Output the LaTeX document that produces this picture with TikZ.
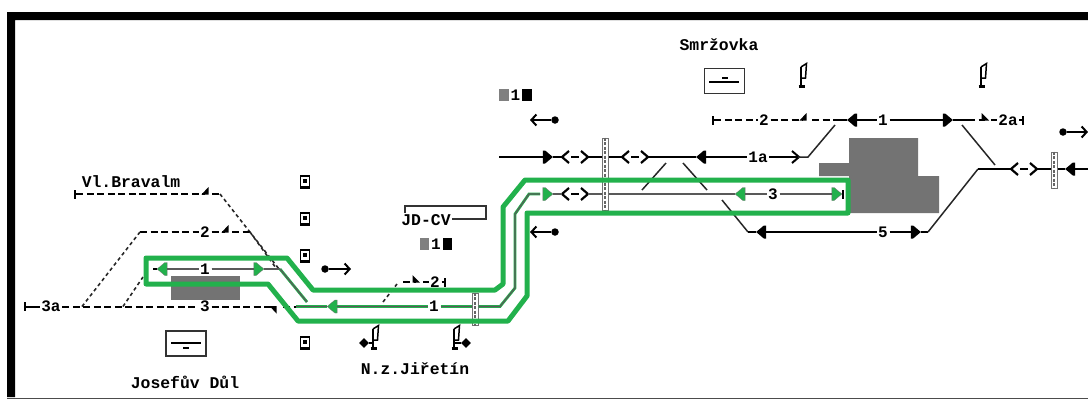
\documentclass[tikz,border=0pt]{standalone}
\usepackage{fontspec}
\setmonofont{Liberation Mono}
\usetikzlibrary{positioning,arrows.meta,shapes.geometric,shapes.symbols}
\definecolor{routegreen}{RGB}{34,177,76}
\tikzset{
  tracklab/.style={font=\fontsize{16}{16}\selectfont\ttfamily\bfseries, inner sep=1.5pt},
  stationlab/.style={font=\fontsize{16.4}{17}\selectfont\ttfamily\bfseries, inner sep=0pt},
  track/.style={line width=2pt, black},
  dashtrack/.style={line width=2pt, black, dash pattern=on 7pt off 3.5pt},
  link/.style={line width=1.5pt, black!85},
  dotlink/.style={line width=1.6pt, black!85, dash pattern=on 3.5pt off 3pt},
  routetrack/.style={draw=routegreen, line width=.8pt, double=black!65, double distance=1.2pt},
  route/.style={draw=routegreen, line width=5pt, line join=round},
  sigbox/.style={signal, signal pointer angle=80, inner sep=0pt, minimum width=10pt, minimum height=13pt},
  sigeast/.style={sigbox, signal to=east, fill=black},
  sigwest/.style={sigbox, signal to=west, fill=black},
  sigeastg/.style={sigeast, fill=routegreen, draw=black!55, line width=.3pt},
  sigwestg/.style={sigwest, fill=routegreen, draw=black!55, line width=.3pt},
  endtick/.style={fill=black, minimum width=2.5pt, minimum height=9pt, inner sep=0pt},
  bridge/.style={draw=black!55, fill=white, line width=1pt, minimum width=6pt, inner sep=0pt},
  bridgemid/.style={line width=1.4pt, black!60, dash pattern=on 3pt off 1.5pt},
  stbox/.style={draw=black!80, line width=1.2pt, fill=white, minimum width=40pt, minimum height=25pt, inner sep=0pt},
  hatch/.style={fill=black!55},
  blocksq/.style={fill=black, minimum width=9.5pt, minimum height=12pt, inner sep=0pt},
  blockgr/.style={blocksq, fill=black!50},
  dotend/.style={circle, fill=black, minimum size=7.5pt, inner sep=0pt},
  openarrow/.style={line width=2pt, black, -{Straight Barb[length=5pt,width=11pt]}},
  flagdot/.style={diamond, fill=black, minimum size=10pt, inner sep=0pt},
  lamp/.pic={
    \draw[line width=1.2pt, fill=white] (-4.5,-6) rectangle (4.5,5);
    \fill (-1.7,-2.7) rectangle (1.7,.7);
    \draw[line width=2.4pt] (-5,6) -- (5,6);
  },
  swapgap/.pic={
    \draw[line width=2.2pt] (-6,-6) -- (-13,0) -- (-6,6);
    \draw[line width=2.2pt] (6,-6) -- (13,0) -- (6,6);
    \draw[line width=2pt] (-4,0) -- (4,0);
    \coordinate (-w) at (-13,0);
    \coordinate (-e) at (13,0);
  },
  flagmast/.pic={
    \draw[line width=2.4pt] (-4.5,11.5) -- (2,11.5);
    \draw[line width=2.8pt] (-2,11.5) -- (-2,-8);
    \draw[line width=1.5pt] (-2,-8) -- (3.5,-11.5) -- (2.5,3) -- (-2,3);
    \coordinate (-base) at (-2,6);
  },
  wedgeup/.pic={\fill (-3.5,.5) -- (3.5,.5) -- (3.5,-7) -- cycle;},
  wedgeback/.pic={\fill (-3.5,.5) -- (4,.5) -- (-3.5,-7) -- cycle;},
  wedgedown/.pic={\fill (-3.5,-.5) -- (3.5,-.5) -- (3.5,7) -- cycle;},
}

\begin{document}
\begin{tikzpicture}[x=1pt, y=-1pt]
  \useasboundingbox (0,0) rectangle (1088,400);
  % frame
  \fill[black] (1088,12) -- (7,12) -- (7,397) -- (15,397) -- (15,20) -- (1088,20) -- cycle;
  \draw[black!70, line width=1pt] (7,398) -- (1088,398);
  % occupied areas
  \fill[hatch] (171,276) rectangle (240,300);
  \fill[hatch] (849,138) -- (918,138) -- (918,176) -- (939,176) -- (939,213) -- (849,213) -- (849,176) -- (819,176) -- (819,163) -- (849,163) -- cycle;
  % Josefuv Dul
  \node[stationlab] (vlb) at (131,182) {Vl.Bravalm};
  \node[stationlab] (jos) at (185,382) {Josefův Důl};
  \node[stbox] (josbox) at (186,343.5) {};
  \draw[line width=2pt] (171,343) -- (201,343);
  \draw[line width=2pt] (183,348) -- (189,348);
  \node[endtick] (vlend) at (75,194) {};
  \coordinate (vlw) at (205,194);
  \coordinate (vlr) at (220,194);
  \draw[dashtrack] (vlend) -- (vlw);
  \pic at (vlw) {wedgeup};
  \draw[dashtrack] (vlw) ++(7,0) -- (vlr);
  \draw[dotlink] (vlr) -- (279,269);
  \node[tracklab] (t2) at (205,232) {2};
  \coordinate (t2l) at (140,232);
  \coordinate (t2w) at (225,232);
  \coordinate (t2r) at (250,232);
  \draw[dashtrack] (t2l) -- (t2);
  \draw[dashtrack] (t2) -- (t2w);
  \pic at (t2w) {wedgeup};
  \draw[dashtrack] (t2w) ++(7,0) -- (t2r);
  \draw[dotlink] (t2r) -- (276,268);
  \node[endtick] (e3a) at (25,306.5) {};
  \node[tracklab] (t3a) at (51,306.5) {3a};
  \node[tracklab] (t3) at (205,306.5) {3};
  \coordinate (t3w) at (273,306.5);
  \coordinate (j3) at (82,306.5);
  \coordinate (k3) at (123,306.5);
  \draw[track] (e3a) -- (t3a);
  \draw[dashtrack] (t3a) -- (t3);
  \draw[dashtrack] (t3) -- (t3w);
  \pic at (t3w) {wedgedown};
  \draw[dotlink] (j3) -- (t2l);
  \draw[dotlink] (k3) -- (143,277);
  \node[tracklab] (t1) at (205,269) {1};
  \node[sigwestg] (s1l) at (166,269) {};
  \node[sigeastg] (s1r) at (255,269) {};
  \coordinate (t1w) at (153,269);
  \coordinate (t1e) at (280,269);
  \draw[track] (t1w) -- (s1l);
  \draw[routetrack] (s1l) -- (t1);
  \draw[routetrack] (t1) -- (s1r);
  \draw[routetrack] (s1r) -- (t1e);
  % lamps
  \pic at (305,182) {lamp};
  \pic at (305,219) {lamp};
  \pic at (305,256) {lamp};
  \pic at (305,343) {lamp};
  \node[dotend] (d1) at (325,269) {};
  \coordinate (a1) at (351,269);
  \draw[openarrow] (d1) -- (a1);
  % N.z.Jiretin
  \node[bridge, minimum height=32pt] (br1) at (475,309) {};
  \draw[bridgemid] (br1.north) -- (br1.south);
  \node[sigwestg] (s3) at (336,306.5) {};
  \node[tracklab] (m1) at (434,306.5) {1};
  \coordinate (mw) at (296,306.5);
  \coordinate (me) at (500,306.5);
  \draw[routetrack] (mw) -- (s3);
  \draw[routetrack] (t1e) -- (307,302);
  \draw[dashtrack] (283,306.5) -- (mw);
  \draw[routetrack] (s3) -- (m1);
  \draw[routetrack] (m1) -- (m1 -| br1.west);
  \draw[routetrack] (m1 -| br1.east) -- (me) -- (515,288) -- (515,214) -- (529,194) -- (540,194);
  \coordinate (d2b) at (383,302);
  \coordinate (d2t) at (397,284);
  \draw[dotlink] (d2b) -- (d2t);
  \node[tracklab] (n2) at (435,282) {2};
  \node[endtick] (n2e) at (445,282) {};
  \coordinate (n2w) at (416,282);
  \draw[dashtrack] (403,282) -- (n2w);
  \pic at (n2w) {wedgeback};
  \draw[dashtrack] (423,282) -- (n2);
  \draw[track] (n2) -- (n2e);
  \node[stationlab] (jd) at (426,220) {JD-CV};
  \draw[line width=1.2pt, black!80] (405,213) -- (405,206) -- (486,206) -- (486,219) -- (452,219);
  \node[blockgr] (bg1) at (424.5,244) {};
  \node[tracklab, right=0pt of bg1] (bn1) {1};
  \node[blocksq, right=0pt of bn1] (bb1) {};
  \pic (fg1) at (375,337) {flagmast};
  \pic (fg2) at (456,337) {flagmast};
  \node[flagdot] (fd1) at (364,343) {};
  \node[flagdot] (fd2) at (466,343) {};
  \draw[track] (fd1) -- (fg1-base);
  \draw[track] (fd2) -- (fg2-base);
  \node[stationlab] (jir) at (415,369) {N.z.Jiřetín};
  % middle group
  \node[blockgr] (bg2) at (504,95) {};
  \node[tracklab, right=0pt of bg2] (bn2) {1};
  \node[blocksq, right=0pt of bn2] (bb2) {};
  \node[dotend] (d2) at (555,120) {};
  \coordinate (a2) at (530,120);
  \draw[openarrow] (d2) -- (a2);
  \node[dotend] (d3) at (555,232) {};
  \coordinate (a3) at (530,232);
  \draw[openarrow] (d3) -- (a3);
  \node[bridge, minimum height=72pt] (br2) at (605,174) {};
  \draw[bridgemid] (br2.north) -- (br2.south);
  % track 1a
  \coordinate (u0) at (499,157);
  \node[sigeast] (u1) at (544,157) {};
  \pic (u2) at (575,157) {swapgap};
  \pic (u3) at (635,157) {swapgap};
  \node[sigwest] (u4) at (705,157) {};
  \node[tracklab] (u5) at (758,157) {1a};
  \coordinate (u6) at (798,157);
  \coordinate (u7) at (808,157);
  \draw[track] (u0) -- (u1);
  \draw[track] (u1) -- (u2-w);
  \draw[track] (u2-e) -- (u2-e -| br2.west);
  \draw[track] (u3-w) -- (u3-w -| br2.east);
  \draw[track] (u3-e) -- (u4);
  \draw[track] (u4) -- (u5);
  \draw[track] (u5) -- (u6);
  \draw[line width=2pt] (792,151) -- (799,157) -- (792,163);
  \draw[link] (u6) -- (u7) -- (835,125);
  \draw[link] (666,163) -- (642,190);
  \draw[link] (683,163) -- (707,190);
  % track 3
  \node[sigeastg] (g1) at (544,194) {};
  \pic (g2) at (575,194) {swapgap};
  \node[sigwestg] (g3) at (744,194) {};
  \node[tracklab] (g4) at (773,194) {3};
  \node[sigeastg] (g5) at (833,194) {};
  \node[endtick] (g6) at (843,194) {};
  \draw[routetrack] (g1) -- (g2-w);
  \draw[routetrack] (g2-e) -- (g2-e -| br2.west);
  \draw[routetrack] (g2-e -| br2.east) -- (g3);
  \draw[routetrack] (g3) -- (g4);
  \draw[routetrack] (g4) -- (g5);
  \draw[track] (g5) -- (g6);
  % track 5
  \coordinate (f0) at (722,200);
  \coordinate (f1) at (748,232);
  \node[sigwest] (f2) at (765,232) {};
  \node[tracklab] (f3) at (883,232) {5};
  \node[sigeast] (f4) at (912,232) {};
  \coordinate (f5) at (928,232);
  \coordinate (f6) at (978,169);
  \pic (f7) at (1024,169) {swapgap};
  \node[bridge, minimum height=36pt] (br3) at (1054,170) {};
  \draw[bridgemid] (br3.north) -- (br3.south);
  \node[sigwest] (f8) at (1074,169) {};
  \coordinate (f9) at (1088,169);
  \draw[link] (f0) -- (f1);
  \draw[track] (f1) -- (f2);
  \draw[track] (f2) -- (f3);
  \draw[track] (f3) -- (f4);
  \draw[track] (f4) -- (f5);
  \draw[link] (f5) -- (f6);
  \draw[track] (f6) -- (f7-w);
  \draw[track] (f7-e) -- (f7-e -| br3.west);
  \draw[track] (f8 -| br3.east) -- (f8);
  \draw[track] (f8) -- (f9);
  % Smrzovka
  \node[stationlab] (smr) at (719,45) {Smržovka};
  \node[stbox] (smrbox) at (724.5,81) {};
  \draw[line width=2pt] (709,82) -- (739,82);
  \draw[line width=2pt] (722,78) -- (728,78);
  \pic at (803,75) {flagmast};
  \pic at (983,75) {flagmast};
  \node[endtick] (p0) at (713,120) {};
  \node[tracklab] (p1) at (764,120) {2};
  \coordinate (p2) at (803,120);
  \coordinate (p3) at (812,120);
  \coordinate (p4) at (833,120);
  \node[sigwest] (p5) at (856,120) {};
  \node[tracklab] (p6) at (883,120) {1};
  \node[sigeast] (p7) at (944,120) {};
  \coordinate (p8) at (968,120);
  \coordinate (p9) at (985,120);
  \node[tracklab] (p10) at (1008,120) {2a};
  \node[endtick] (p11) at (1023,120) {};
  \draw[dashtrack] (p0) -- (p1);
  \draw[dashtrack] (p1) -- (p2);
  \pic at (p2) {wedgeup};
  \draw[dashtrack] (p3) -- (p4);
  \draw[track] (p4) -- (p5);
  \draw[track] (p5) -- (p6);
  \draw[track] (p6) -- (p7);
  \draw[track] (p7) -- (p8);
  \draw[dashtrack] (p8) -- (p9);
  \pic at (p9) {wedgeback};
  \draw[dashtrack] (991,120) -- (p10);
  \draw[track] (p10) -- (p11);
  \draw[link] (962,125) -- (995,165);
  \node[dotend] (d4) at (1063,132) {};
  \coordinate (a4) at (1088,132);
  \draw[openarrow] (d4) -- (a4);
  % route outline
  \draw[route] (146,258) -- (287,258) -- (313,290) -- (495,290) -- (503,284) -- (503,207) -- (525,180) -- (848,180) -- (848,213) -- (527,213) -- (527,296) -- (508,321) -- (298,321) -- (268,284) -- (146,284) -- cycle;
\end{tikzpicture}
\end{document}
